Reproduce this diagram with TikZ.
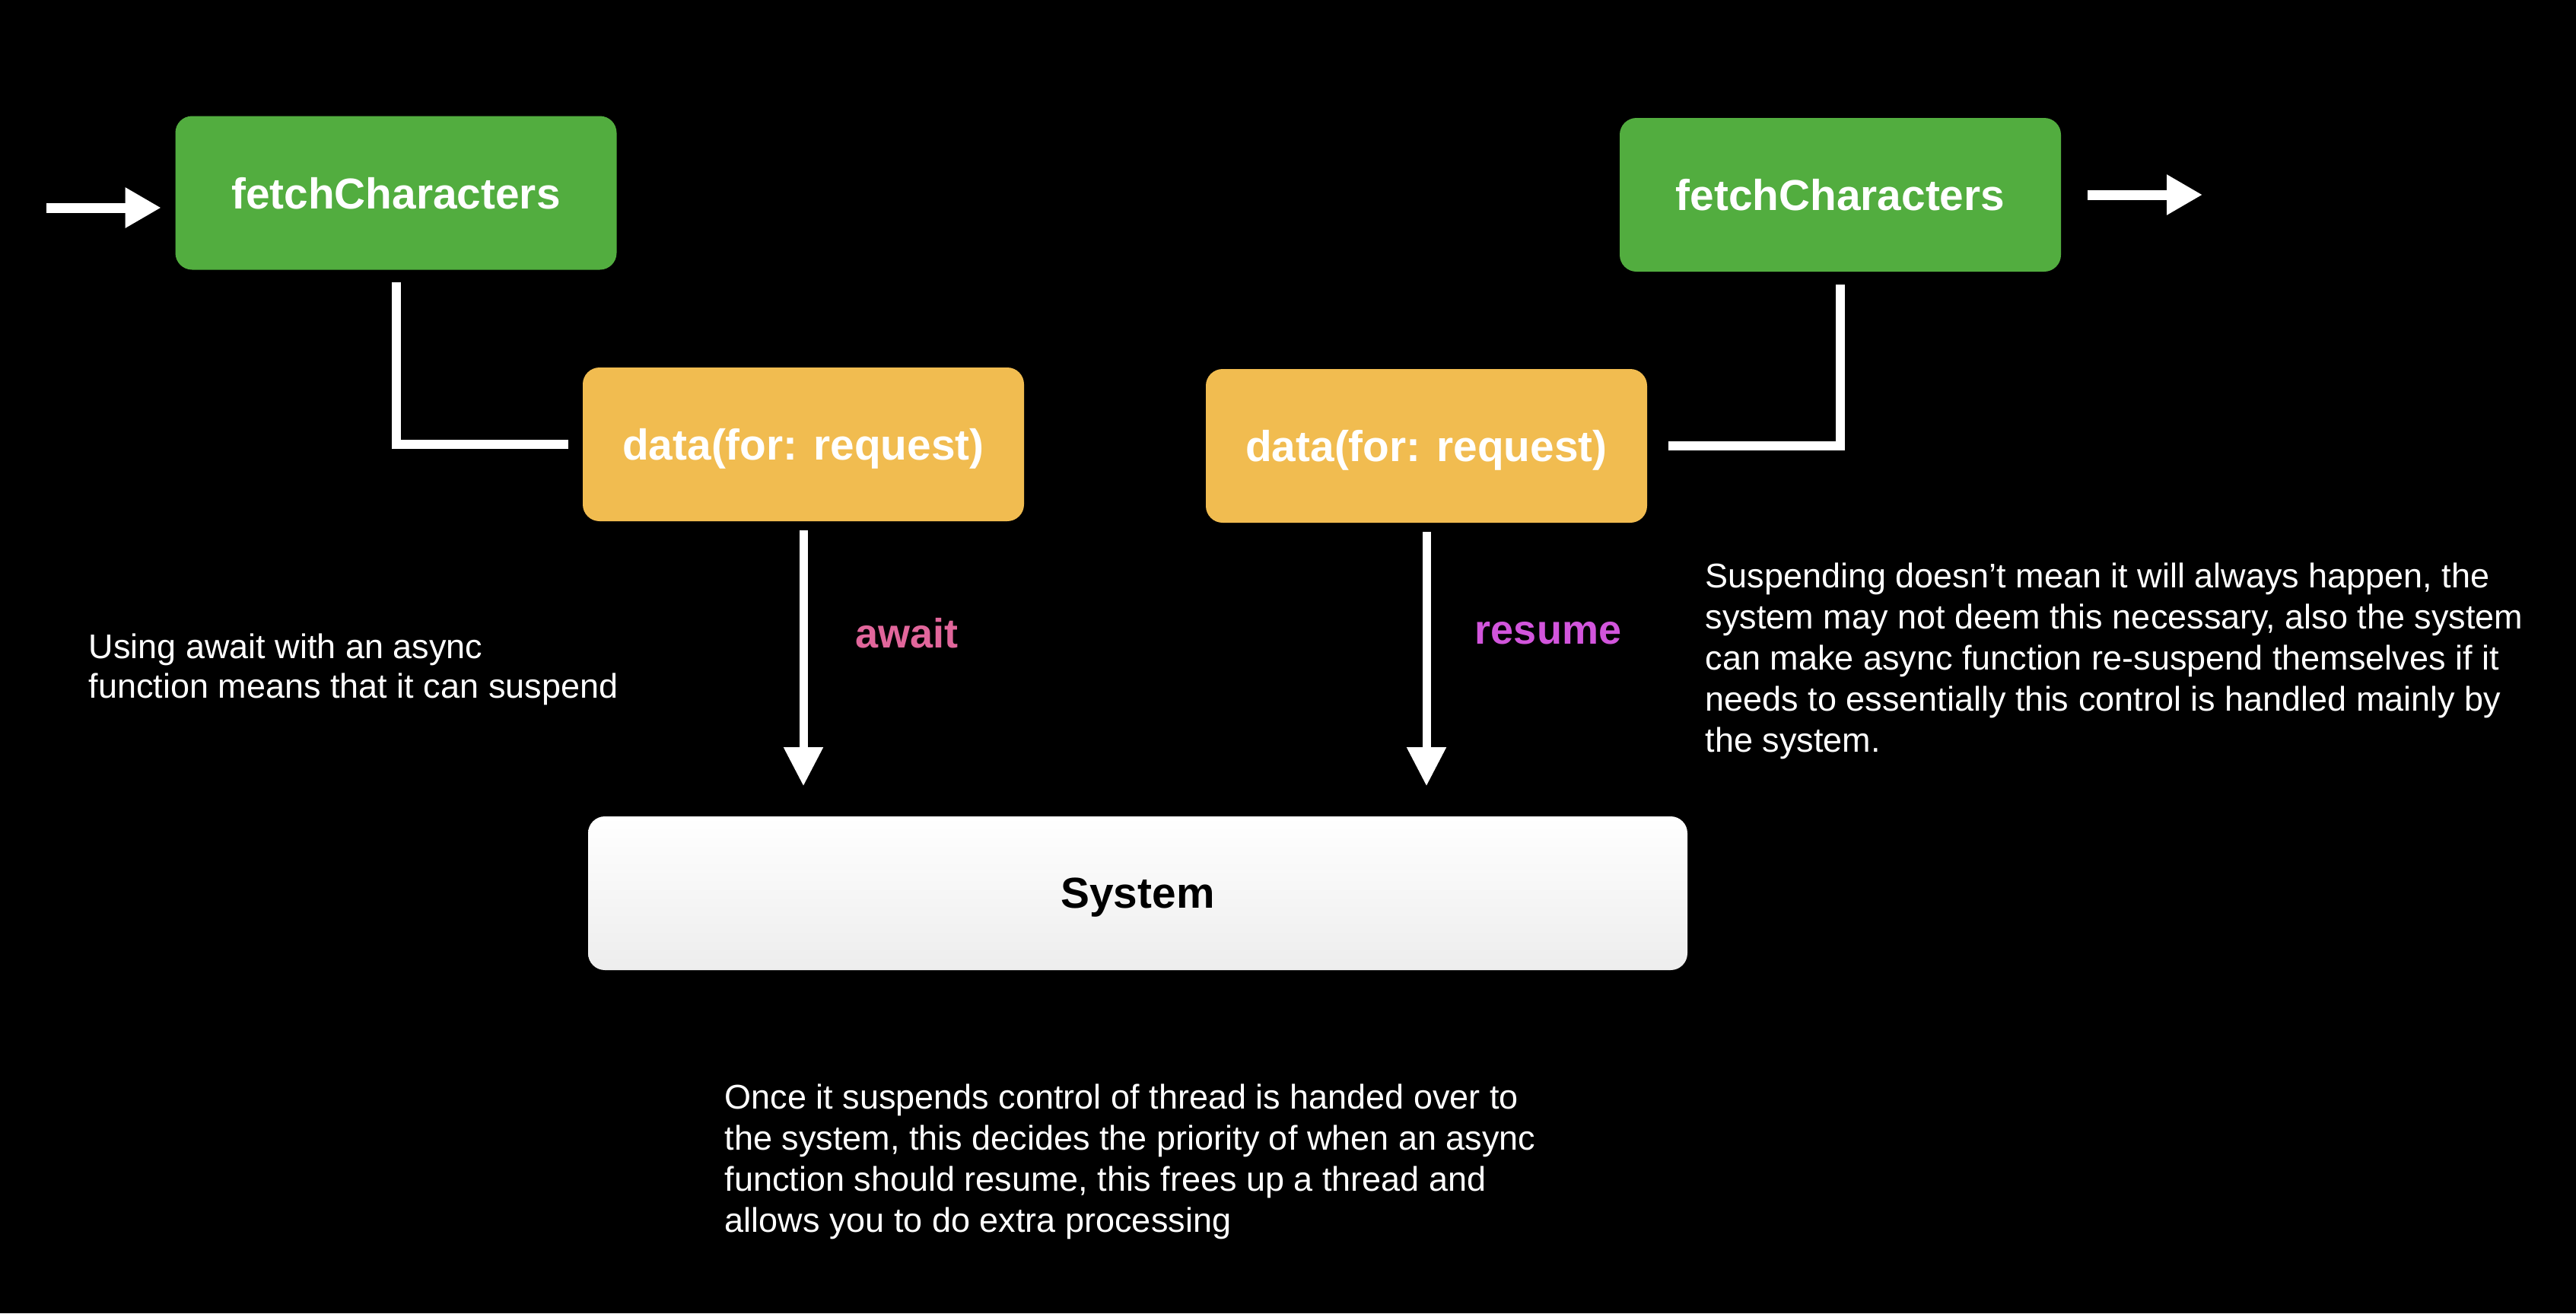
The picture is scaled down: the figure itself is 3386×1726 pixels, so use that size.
\documentclass[tikz,border=0pt]{standalone}
\usepackage{fontspec}
\setmainfont{Liberation Sans}
\usetikzlibrary{arrows.meta}
\definecolor{boxgreen}{RGB}{82,173,63}
\definecolor{boxyellow}{RGB}{241,188,80}
\definecolor{awaitpink}{RGB}{225,102,155}
\definecolor{resumepurple}{RGB}{210,85,220}
\begin{document}
\begin{tikzpicture}[x=0.25pt,y=-0.25pt,
  box/.style={rounded corners=5.5pt, minimum width=145pt, minimum height=50.5pt, inner sep=0pt,
    text depth=0pt, font=\fontsize{14.2pt}{17pt}\selectfont\bfseries, text=white},
  greenbox/.style={box, fill=boxgreen},
  yellowbox/.style={box, fill=boxyellow},
  sysbox/.style={rounded corners=5.5pt, minimum width=361.25pt, minimum height=50.5pt, inner sep=0pt,
    text depth=0pt, top color=white, bottom color=black!7, text=black,
    font=\fontsize{14.2pt}{17pt}\selectfont\bfseries},
  conn/.style={draw=white, line width=3pt, line join=miter},
  flow/.style={draw=white, line width=3.25pt, -{Triangle[width=12.5pt,length=11.75pt]}},
  down/.style={draw=white, line width=2.75pt, -{Triangle[width=12.25pt,length=12.75pt]}},
  note/.style={text=white, align=left, anchor=base west, inner sep=0pt,
    font=\fontsize{11.25pt}{13.5pt}\selectfont},
  lbl/.style={font=\fontsize{13.5pt}{16pt}\selectfont\bfseries, inner sep=0pt}
]
\fill[black] (0,0) rectangle (3386,1726);
\useasboundingbox (0,0) rectangle (3386,1726);

\node[greenbox] (g1) at (520.5,253.5) {fetchCharacters};
\node[greenbox] (g2) at (2419,256) {fetchCharacters};
\node[yellowbox] (y1) at (1056,584) {data(for: request)};
\node[yellowbox] (y2) at (1875,586) {data(for: request)};
\node[sysbox] (sys) at (1495.5,1174) {System};

\coordinate (inL) at (61,273);
\coordinate (outR) at (2895,256);
\draw[flow] (inL) -- ([xshift=-4.5pt]inL -| g1.west);
\draw[flow] ([xshift=8.5pt]g2.east) -- (outR);

\draw[conn] ([yshift=-4pt]g1.south) |- ([xshift=-4.5pt]y1.west);
\draw[conn] ([xshift=6.75pt]y2.east) -| ([yshift=-4pt]g2.south);

\draw[down] ([yshift=-2.75pt]y1.south) -- ([yshift=9.75pt]y1.south |- sys.north);
\draw[down] ([yshift=-2.75pt]y2.south) -- ([yshift=9.75pt]y2.south |- sys.north);

\node[lbl, text=awaitpink] (aw) at (1192,832) {await};
\node[lbl, text=resumepurple] (rs) at (2035,832) {resume};

% base anchor of a multi-line node is the baseline of its last line
\node[note, font=\fontsize{11.25pt}{13pt}\selectfont] (t1) at (116,917) {Using await with an async\\function means that it can suspend};
\node[note] (t2) at (2241,988) {Suspending doesn’t mean it will always happen, the\\system may not deem this necessary, also the system\\can make async function re-suspend themselves if it\\needs to essentially this control is handled mainly by\\the system.};
\node[note] (t3) at (952,1619) {Once it suspends control of thread is handed over to\\the system, this decides the priority of when an async\\function should resume, this frees up a thread and\\allows you to do extra processing};
\end{tikzpicture}
\end{document}
